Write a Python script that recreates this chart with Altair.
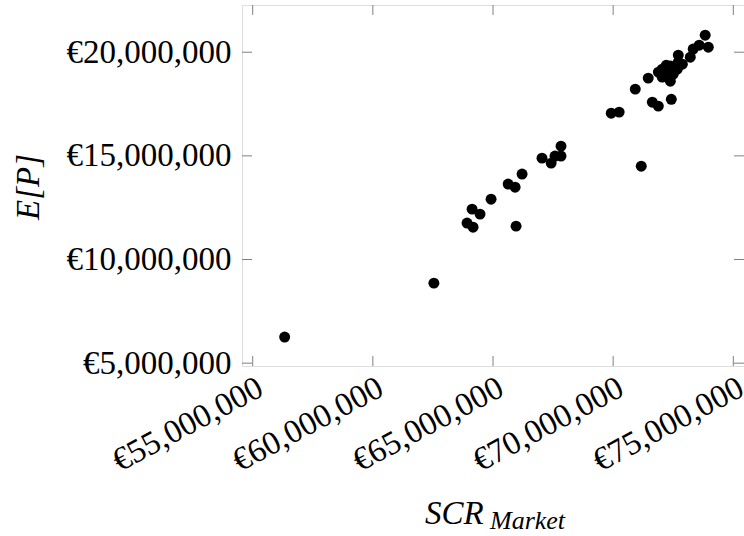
import altair as alt
import pandas as pd

# SCR_Market (EUR millions) and E[P] (EUR millions)
scr_market_m = [56.33, 62.54, 63.92, 64.17, 64.13, 64.46, 64.92, 65.63, 65.92, 66.21,
                65.96, 67.04, 67.42, 67.58, 67.83, 67.83, 69.92, 70.25, 70.92, 71.17,
                71.46, 71.63, 71.88, 72.42, 71.88, 72.04, 72.04, 72.25, 72.38, 72.38,
                72.54, 72.67, 72.71, 72.71, 72.88, 73.21, 73.33, 73.58, 73.83, 73.96,
                72.21, 72.50]
expected_p_m = [6.26, 8.86, 11.76, 11.56, 12.43, 12.19, 12.91, 13.64, 13.49, 14.12,
                11.61, 14.89, 14.65, 14.99, 14.99, 15.47, 17.06, 17.11, 18.22, 14.50,
                18.75, 17.59, 17.40, 17.73, 19.04, 19.18, 18.80, 18.99, 19.33, 18.60,
                19.18, 19.18, 19.52, 19.86, 19.42, 19.76, 20.15, 20.34, 20.82, 20.24,
                19.37, 18.94]

x_ticks = [55e6, 60e6, 65e6, 70e6, 75e6]
y_ticks = [5e6, 10e6, 15e6, 20e6]

df = pd.DataFrame({
    "scr": [v * 1e6 for v in scr_market_m],
    "ep": [v * 1e6 for v in expected_p_m],
})
dfx = pd.DataFrame({"scr": x_ticks})
dfy = pd.DataFrame({"ep": y_ticks})

W, H = 502, 361
FONT = "Liberation Serif"
GRAY = "#808080"

xs = alt.Scale(domain=[54.555e6, 75.445e6], nice=False, zero=False)
ys = alt.Scale(domain=[4.863e6, 22.277e6], nice=False, zero=False)

label_expr = "'€' + format(datum.value, ',')"

x_axis = alt.Axis(
    values=x_ticks, labelExpr=label_expr, title=None, grid=False, ticks=False,
    domain=False, labelFont=FONT, labelFontSize=33, labelColor="black",
    labelAngle=332, labelAlign="right", labelBaseline="top", labelPadding=5,
    labelOverlap=False, labelFlush=False)
y_axis = alt.Axis(
    values=y_ticks, labelExpr=label_expr, title=None, grid=False, ticks=False,
    domain=False, labelFont=FONT, labelFontSize=33, labelColor="black",
    labelAlign="right", labelBaseline="middle", labelPadding=11,
    labelOverlap=False, labelFlush=False)

points = alt.Chart(df).mark_circle(size=120, color="black", opacity=1).encode(
    x=alt.X("scr:Q", scale=xs, axis=x_axis),
    y=alt.Y("ep:Q", scale=ys, axis=y_axis),
)

tick_len = 10
xt_bottom = alt.Chart(dfx).mark_rule(color=GRAY, strokeWidth=1).encode(
    x=alt.X("scr:Q", scale=xs, axis=x_axis), y=alt.value(H), y2=alt.value(H - tick_len))
xt_top = alt.Chart(dfx).mark_rule(color=GRAY, strokeWidth=1).encode(
    x=alt.X("scr:Q", scale=xs, axis=x_axis), y=alt.value(0), y2=alt.value(tick_len))
yt_left = alt.Chart(dfy).mark_rule(color=GRAY, strokeWidth=1).encode(
    y=alt.Y("ep:Q", scale=ys, axis=y_axis), x=alt.value(0), x2=alt.value(tick_len))
yt_right = alt.Chart(dfy).mark_rule(color=GRAY, strokeWidth=1).encode(
    y=alt.Y("ep:Q", scale=ys, axis=y_axis), x=alt.value(W - tick_len), x2=alt.value(W))

one = pd.DataFrame({"a": [0]})
ytitle = alt.Chart(one).mark_text(
    text="E[P]", font=FONT, fontSize=33, fontStyle="italic", angle=270,
    align="center", baseline="middle", color="black").encode(
    x=alt.value(-213), y=alt.value(182))
xtitle_main = alt.Chart(one).mark_text(
    text="SCR", font=FONT, fontSize=33, fontStyle="italic",
    align="left", baseline="alphabetic", color="black").encode(
    x=alt.value(183), y=alt.value(519))
xtitle_sub = alt.Chart(one).mark_text(
    text="Market", font=FONT, fontSize=26, fontStyle="italic",
    align="left", baseline="alphabetic", color="black").encode(
    x=alt.value(248), y=alt.value(524))

chart = alt.layer(
    points, xt_bottom, xt_top, yt_left, yt_right, ytitle, xtitle_main, xtitle_sub
).properties(
    width=W, height=H,
    autosize=alt.AutoSizeParams(type="none"),
    padding={"left": 242, "top": 5, "right": 0, "bottom": 170},
).configure_view(stroke=GRAY, strokeWidth=1).configure(background="white")

chart.save("out.html", embed_options={"renderer": "svg", "actions": False})
